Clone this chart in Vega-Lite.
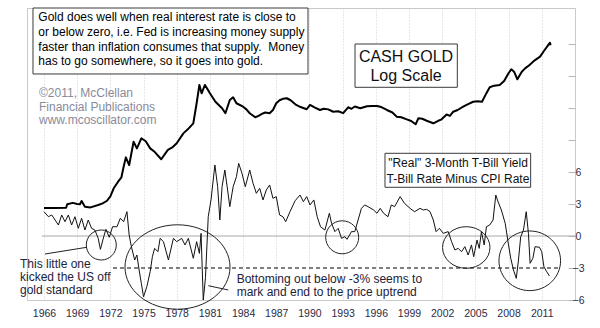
{
  "$schema": "https://vega.github.io/schema/vega-lite/v6.json",
  "width": 548,
  "height": 292,
  "autosize": {"type": "none"},
  "padding": {"left": 27, "top": 8, "right": 25, "bottom": 28},
  "background": "white",
  "config": {
    "view": {"stroke": "#c8c8c8", "strokeWidth": 1},
    "font": "Liberation Sans",
    "axis": {"labelFont": "Liberation Sans", "labelFontSize": 10.5, "labelColor": "#2b2b45", "title": null, "labelOverlap": false, "labelFlush": false}
  },
  "datasets": {
    "gold": [
      {"t": 1966.0, "p": 35}, {"t": 1967.0, "p": 35}, {"t": 1968.0, "p": 35.2}, {"t": 1968.1, "p": 38.2},
      {"t": 1968.6, "p": 39.5}, {"t": 1969.0, "p": 38.5}, {"t": 1969.25, "p": 38.2}, {"t": 1969.4, "p": 41.3},
      {"t": 1969.7, "p": 36}, {"t": 1970.2, "p": 35.5}, {"t": 1970.9, "p": 37.5}, {"t": 1971.3, "p": 39},
      {"t": 1971.7, "p": 41.5}, {"t": 1972.0, "p": 46}, {"t": 1972.3, "p": 55.6}, {"t": 1972.7, "p": 64.9},
      {"t": 1973.0, "p": 72}, {"t": 1973.2, "p": 92.4}, {"t": 1973.4, "p": 115}, {"t": 1973.7, "p": 96},
      {"t": 1974.1, "p": 166}, {"t": 1974.4, "p": 142}, {"t": 1974.8, "p": 180}, {"t": 1975.2, "p": 168},
      {"t": 1975.6, "p": 142}, {"t": 1976.0, "p": 131}, {"t": 1976.6, "p": 110}, {"t": 1977.2, "p": 137},
      {"t": 1977.6, "p": 145}, {"t": 1978.0, "p": 160}, {"t": 1978.6, "p": 202}, {"t": 1979.0, "p": 222},
      {"t": 1979.5, "p": 256}, {"t": 1979.8, "p": 410}, {"t": 1980.05, "p": 630}, {"t": 1980.25, "p": 518},
      {"t": 1980.55, "p": 630}, {"t": 1980.75, "p": 580}, {"t": 1981.0, "p": 518}, {"t": 1981.5, "p": 425},
      {"t": 1982.1, "p": 364}, {"t": 1982.4, "p": 324}, {"t": 1982.8, "p": 443}, {"t": 1983.1, "p": 472},
      {"t": 1983.4, "p": 410}, {"t": 1984.0, "p": 378}, {"t": 1984.3, "p": 355}, {"t": 1984.6, "p": 324},
      {"t": 1985.1, "p": 295}, {"t": 1985.4, "p": 305}, {"t": 1985.7, "p": 319}, {"t": 1986.0, "p": 330},
      {"t": 1986.4, "p": 324}, {"t": 1986.7, "p": 350}, {"t": 1987.0, "p": 410}, {"t": 1987.3, "p": 440},
      {"t": 1987.6, "p": 455}, {"t": 1987.95, "p": 461}, {"t": 1988.3, "p": 440}, {"t": 1988.8, "p": 394},
      {"t": 1989.2, "p": 375}, {"t": 1989.75, "p": 356}, {"t": 1990.05, "p": 394}, {"t": 1990.5, "p": 370},
      {"t": 1990.95, "p": 350}, {"t": 1991.3, "p": 360}, {"t": 1991.7, "p": 355}, {"t": 1992.15, "p": 336},
      {"t": 1992.6, "p": 340}, {"t": 1993.05, "p": 325}, {"t": 1993.5, "p": 373}, {"t": 1993.8, "p": 360},
      {"t": 1994.1, "p": 380}, {"t": 1994.6, "p": 364}, {"t": 1995.2, "p": 382}, {"t": 1995.7, "p": 385},
      {"t": 1996.1, "p": 385}, {"t": 1996.5, "p": 375}, {"t": 1997.0, "p": 350}, {"t": 1997.5, "p": 330},
      {"t": 1997.9, "p": 299}, {"t": 1998.3, "p": 295}, {"t": 1998.8, "p": 281}, {"t": 1999.2, "p": 270},
      {"t": 1999.6, "p": 250}, {"t": 1999.85, "p": 288}, {"t": 2000.2, "p": 285}, {"t": 2000.6, "p": 272},
      {"t": 2001.2, "p": 256}, {"t": 2001.6, "p": 270}, {"t": 2001.95, "p": 281}, {"t": 2002.4, "p": 315},
      {"t": 2002.7, "p": 305}, {"t": 2003.0, "p": 336}, {"t": 2003.4, "p": 350}, {"t": 2003.9, "p": 378},
      {"t": 2004.3, "p": 400}, {"t": 2004.8, "p": 425}, {"t": 2005.2, "p": 430}, {"t": 2005.6, "p": 425},
      {"t": 2006.0, "p": 520}, {"t": 2006.3, "p": 597}, {"t": 2006.7, "p": 620}, {"t": 2007.2, "p": 630},
      {"t": 2007.6, "p": 690}, {"t": 2008.0, "p": 829}, {"t": 2008.25, "p": 911}, {"t": 2008.5, "p": 860},
      {"t": 2008.8, "p": 720}, {"t": 2009.2, "p": 861}, {"t": 2009.5, "p": 930}, {"t": 2009.9, "p": 1007},
      {"t": 2010.3, "p": 1110}, {"t": 2010.85, "p": 1225}, {"t": 2011.2, "p": 1400}, {"t": 2011.6, "p": 1613},
      {"t": 2011.75, "p": 1701}, {"t": 2011.8, "p": 1600}
    ],
    "real": [
      {"t": 1966.0, "r": 2.28}, {"t": 1966.4, "r": 1.81}, {"t": 1966.7, "r": 1.97}, {"t": 1967.0, "r": 1.5},
      {"t": 1967.3, "r": 1.03}, {"t": 1967.6, "r": 1.97}, {"t": 1967.9, "r": 1.34}, {"t": 1968.2, "r": 1.97},
      {"t": 1968.5, "r": 1.03}, {"t": 1968.8, "r": 1.81}, {"t": 1969.1, "r": 0.72}, {"t": 1969.4, "r": 1.66},
      {"t": 1969.7, "r": 0.56}, {"t": 1970.0, "r": 1.5}, {"t": 1970.3, "r": 0.72}, {"t": 1970.6, "r": 0.56},
      {"t": 1970.9, "r": -0.22}, {"t": 1971.1, "r": -1.25}, {"t": 1971.4, "r": -0.07}, {"t": 1971.6, "r": 0.63},
      {"t": 1971.9, "r": -0.12}, {"t": 1972.2, "r": 0.87}, {"t": 1972.6, "r": 0.87}, {"t": 1972.9, "r": 1.66},
      {"t": 1973.2, "r": 1.34}, {"t": 1973.5, "r": 2.28}, {"t": 1973.7, "r": 0.09}, {"t": 1973.9, "r": -1.0},
      {"t": 1974.2, "r": -2.25}, {"t": 1974.4, "r": -1.78}, {"t": 1974.6, "r": -3.19}, {"t": 1974.8, "r": -4.44},
      {"t": 1975.0, "r": -5.7}, {"t": 1975.3, "r": -4.75}, {"t": 1975.6, "r": -3.34}, {"t": 1975.8, "r": -1.94},
      {"t": 1976.0, "r": -1.16}, {"t": 1976.3, "r": -1.47}, {"t": 1976.5, "r": -0.22}, {"t": 1976.8, "r": -0.53},
      {"t": 1977.25, "r": -2.25}, {"t": 1977.7, "r": -0.22}, {"t": 1978.0, "r": -0.53}, {"t": 1978.45, "r": -0.22},
      {"t": 1978.75, "r": -0.84}, {"t": 1979.05, "r": -0.22}, {"t": 1979.5, "r": -2.09}, {"t": 1979.8, "r": -0.53},
      {"t": 1980.05, "r": -1.63}, {"t": 1980.2, "r": 0.25}, {"t": 1980.4, "r": -6.0}, {"t": 1980.6, "r": -3.9},
      {"t": 1980.85, "r": 1.81}, {"t": 1981.1, "r": 3.38}, {"t": 1981.45, "r": 6.66}, {"t": 1981.7, "r": 4.62},
      {"t": 1981.9, "r": 1.5}, {"t": 1982.1, "r": 4.62}, {"t": 1982.35, "r": 6.19}, {"t": 1982.6, "r": 4.31},
      {"t": 1982.8, "r": 2.75}, {"t": 1983.1, "r": 4.62}, {"t": 1983.4, "r": 5.56}, {"t": 1983.6, "r": 6.81},
      {"t": 1983.9, "r": 5.88}, {"t": 1984.2, "r": 4.62}, {"t": 1984.6, "r": 6.19}, {"t": 1984.9, "r": 4.94},
      {"t": 1985.2, "r": 4.0}, {"t": 1985.5, "r": 4.47}, {"t": 1985.8, "r": 3.38}, {"t": 1986.1, "r": 4.31},
      {"t": 1986.4, "r": 4.78}, {"t": 1986.7, "r": 3.53}, {"t": 1987.0, "r": 3.69}, {"t": 1987.3, "r": 1.97},
      {"t": 1987.6, "r": 1.81}, {"t": 1987.85, "r": 1.34}, {"t": 1988.25, "r": 2.3}, {"t": 1988.7, "r": 3.3},
      {"t": 1989.15, "r": 3.84}, {"t": 1989.45, "r": 3.22}, {"t": 1989.75, "r": 3.69}, {"t": 1990.05, "r": 2.91},
      {"t": 1990.4, "r": 3.38}, {"t": 1990.7, "r": 1.81}, {"t": 1991.0, "r": 0.87}, {"t": 1991.4, "r": 0.56},
      {"t": 1991.8, "r": 2.13}, {"t": 1992.0, "r": 1.19}, {"t": 1992.3, "r": 0.41}, {"t": 1992.6, "r": 0.72},
      {"t": 1992.9, "r": -0.22}, {"t": 1993.2, "r": -0.07}, {"t": 1993.4, "r": -0.31}, {"t": 1993.8, "r": 0.41},
      {"t": 1994.1, "r": 0.41}, {"t": 1994.4, "r": 1.5}, {"t": 1994.7, "r": 2.59}, {"t": 1995.0, "r": 2.91},
      {"t": 1995.3, "r": 2.75}, {"t": 1995.8, "r": 2.44}, {"t": 1996.1, "r": 2.13}, {"t": 1996.4, "r": 2.59},
      {"t": 1996.7, "r": 2.13}, {"t": 1997.1, "r": 1.81}, {"t": 1997.4, "r": 2.91}, {"t": 1997.7, "r": 2.75},
      {"t": 1998.2, "r": 3.69}, {"t": 1998.6, "r": 3.06}, {"t": 1999.1, "r": 2.59}, {"t": 1999.5, "r": 2.28},
      {"t": 2000.0, "r": 2.59}, {"t": 2000.3, "r": 2.44}, {"t": 2000.6, "r": 2.5}, {"t": 2000.9, "r": 2.28},
      {"t": 2001.2, "r": 1.5}, {"t": 2001.45, "r": 0.41}, {"t": 2001.75, "r": 0.72}, {"t": 2002.1, "r": 0.25},
      {"t": 2002.55, "r": 0.41}, {"t": 2002.85, "r": -0.53}, {"t": 2003.15, "r": -1.31}, {"t": 2003.45, "r": -1.16},
      {"t": 2003.75, "r": -1.47}, {"t": 2004.05, "r": -1.0}, {"t": 2004.35, "r": -1.78}, {"t": 2004.65, "r": -0.84},
      {"t": 2004.85, "r": -1.94}, {"t": 2005.15, "r": -0.38}, {"t": 2005.35, "r": -1.16}, {"t": 2005.55, "r": 0.41},
      {"t": 2005.8, "r": -0.84}, {"t": 2006.0, "r": 0.87}, {"t": 2006.3, "r": 1.03}, {"t": 2006.6, "r": 1.5},
      {"t": 2006.85, "r": 3.84}, {"t": 2007.05, "r": 3.22}, {"t": 2007.35, "r": 2.44}, {"t": 2007.7, "r": 1.19},
      {"t": 2008.0, "r": -0.84}, {"t": 2008.2, "r": -2.09}, {"t": 2008.45, "r": -3.19}, {"t": 2008.7, "r": -3.97},
      {"t": 2008.9, "r": -2.25}, {"t": 2009.1, "r": -0.07}, {"t": 2009.35, "r": 0.56}, {"t": 2009.6, "r": 2.28},
      {"t": 2009.8, "r": 0.25}, {"t": 2009.95, "r": -2.56}, {"t": 2010.2, "r": -2.09}, {"t": 2010.4, "r": -1.0},
      {"t": 2010.8, "r": -1.06}, {"t": 2011.0, "r": -1.47}, {"t": 2011.2, "r": -2.88}, {"t": 2011.45, "r": -3.34},
      {"t": 2011.7, "r": -3.75}
    ]
  },
  "layer": [
    {
      "data": {"name": "gold"},
      "mark": {"type": "line", "color": "#000000", "strokeWidth": 2, "strokeJoin": "round"},
      "encoding": {
        "x": {"field": "t", "type": "quantitative", "scale": {"domain": [1964.463, 2014.01], "nice": false, "zero": false},
          "axis": {"values": [1966, 1969, 1972, 1975, 1978, 1981, 1984, 1987, 1990, 1993, 1996, 1999, 2002, 2005, 2008, 2011, 2014],
            "tickCount": 100, "format": "d", "labelExpr": "datum.value > 2012 ? '' : datum.label", "grid": true, "gridColor": "#cfcfcf", "gridDash": [1, 2],
            "ticks": false, "domain": false, "labelPadding": 8, "labelOverlap": false, "labelFlush": false, "title": null}},
        "y": {"field": "p", "type": "quantitative", "scale": {"type": "log", "domain": [4.03, 3843], "nice": false, "zero": false}, "axis": null}
      }
    },
    {
      "layer": [
        {
          "data": {"values": [{"a": 1965.8, "b": 2014.01, "v": 0}]},
          "mark": {"type": "rule", "color": "#a8a8a8", "strokeWidth": 1},
          "encoding": {
            "x": {"field": "a", "type": "quantitative", "scale": {"domain": [1964.463, 2014.01], "nice": false, "zero": false}},
            "x2": {"field": "b"},
            "y": {"field": "v", "type": "quantitative", "scale": {"domain": [-6, 21.375], "nice": false, "zero": false},
              "axis": {"orient": "right", "values": [-6, -3, 0, 3, 6, 9, 12, 15, 18], "tickCount": 100, "format": "d", "labelExpr": "datum.value <= 6 ? datum.label : ''",
                "grid": false, "domain": false, "tickSize": -7, "tickColor": "#b8b8b8", "labelPadding": 10, "labelAlign": "center",
                "labelOverlap": false, "labelFlush": false, "title": null}}
          }
        },
        {
          "data": {"values": [{"a": 1972.24, "b": 2012.5, "v": -3}]},
          "mark": {"type": "rule", "color": "#000000", "strokeWidth": 1, "strokeDash": [4, 3]},
          "encoding": {
            "x": {"field": "a", "type": "quantitative", "scale": {"domain": [1964.463, 2014.01], "nice": false, "zero": false}},
            "x2": {"field": "b"},
            "y": {"field": "v", "type": "quantitative", "scale": {"domain": [-6, 21.375], "nice": false, "zero": false}}
          }
        },
        {
          "data": {"name": "real"},
          "mark": {"type": "line", "color": "#111111", "strokeWidth": 1},
          "encoding": {
            "x": {"field": "t", "type": "quantitative", "scale": {"domain": [1964.463, 2014.01], "nice": false, "zero": false}},
            "y": {"field": "r", "type": "quantitative", "scale": {"domain": [-6, 21.375], "nice": false, "zero": false}}
          }
        },
        {
          "data": {"values": [
            {"a": 1965.005, "b": 1989.87, "c": 21.375, "d": 15.19},
            {"a": 1994.12, "b": 2003.37, "c": 18.0, "d": 13.94},
            {"a": 1996.83, "b": 2010.0, "c": 7.753, "d": 4.566}
          ]},
          "mark": {"type": "rect", "fill": "#ffffff", "stroke": "#3a3a3a", "strokeWidth": 1},
          "encoding": {
            "x": {"field": "a", "type": "quantitative", "scale": {"domain": [1964.463, 2014.01], "nice": false, "zero": false}},
            "x2": {"field": "b"},
            "y": {"field": "c", "type": "quantitative", "scale": {"domain": [-6, 21.375], "nice": false, "zero": false}},
            "y2": {"field": "d"}
          }
        },
        {
          "data": {"values": [
            {"a": 1966.09, "b": 1969.86, "c": -1.688, "d": -1.06},
            {"a": 1980.86, "b": 1982.66, "c": -4.66, "d": -5.06}
          ]},
          "mark": {"type": "rule", "color": "#222222", "strokeWidth": 1},
          "encoding": {
            "x": {"field": "a", "type": "quantitative", "scale": {"domain": [1964.463, 2014.01], "nice": false, "zero": false}},
            "x2": {"field": "b"},
            "y": {"field": "c", "type": "quantitative", "scale": {"domain": [-6, 21.375], "nice": false, "zero": false}},
            "y2": {"field": "d"}
          }
        },
        {
          "data": {"values": [
            {"x": 1965.485, "y": 20.127, "txt": "Gold does well when real interest rate is close to\nor below zero, i.e. Fed is increasing money supply\nfaster than inflation consumes that supply. \u00a0Money\nhas to go somewhere, so it goes into gold."}
          ]},
          "mark": {"type": "text", "align": "left", "baseline": "alphabetic", "fontSize": 12, "lineHeight": 14.7, "lineBreak": "\n", "color": "#000000", "font": "Liberation Sans"},
          "encoding": {
            "x": {"field": "x", "type": "quantitative", "scale": {"domain": [1964.463, 2014.01], "nice": false, "zero": false}},
            "y": {"field": "y", "type": "quantitative", "scale": {"domain": [-6, 21.375], "nice": false, "zero": false}},
            "text": {"field": "txt"}
          }
        },
        {
          "data": {"values": [
            {"x": 1965.55, "y": 13.0, "txt": "©2011, McClellan\nFinancial Publications\nwww.mcoscillator.com"}
          ]},
          "mark": {"type": "text", "align": "left", "baseline": "alphabetic", "fontSize": 12, "lineHeight": 13.5, "lineBreak": "\n", "color": "#8a8a99", "font": "Liberation Sans"},
          "encoding": {
            "x": {"field": "x", "type": "quantitative", "scale": {"domain": [1964.463, 2014.01], "nice": false, "zero": false}},
            "y": {"field": "y", "type": "quantitative", "scale": {"domain": [-6, 21.375], "nice": false, "zero": false}},
            "text": {"field": "txt"}
          }
        },
        {
          "data": {"values": [
            {"x": 1998.73, "y": 16.34, "txt": "CASH GOLD\nLog Scale"}
          ]},
          "mark": {"type": "text", "align": "center", "baseline": "alphabetic", "fontSize": 16, "lineHeight": 19.3, "lineBreak": "\n", "color": "#111111", "font": "Liberation Sans"},
          "encoding": {
            "x": {"field": "x", "type": "quantitative", "scale": {"domain": [1964.463, 2014.01], "nice": false, "zero": false}},
            "y": {"field": "y", "type": "quantitative", "scale": {"domain": [-6, 21.375], "nice": false, "zero": false}},
            "text": {"field": "txt"}
          }
        },
        {
          "data": {"values": [
            {"x": 2003.43, "y": 6.497, "txt": "\"Real\" 3-Month T-Bill Yield\nT-Bill Rate Minus CPI Rate"}
          ]},
          "mark": {"type": "text", "align": "center", "baseline": "alphabetic", "fontSize": 12, "lineHeight": 16.6, "lineBreak": "\n", "color": "#111111", "font": "Liberation Sans"},
          "encoding": {
            "x": {"field": "x", "type": "quantitative", "scale": {"domain": [1964.463, 2014.01], "nice": false, "zero": false}},
            "y": {"field": "y", "type": "quantitative", "scale": {"domain": [-6, 21.375], "nice": false, "zero": false}},
            "text": {"field": "txt"}
          }
        },
        {
          "data": {"values": [
            {"x": 1963.83, "y": -3.028, "txt": "This little one\nkicked the US off\ngold standard"},
            {"x": 1983.42, "y": -4.434, "txt": "Bottoming out below -3% seems to\nmark and end to the price uptrend"}
          ]},
          "mark": {"type": "text", "align": "left", "baseline": "alphabetic", "fontSize": 12, "lineHeight": 13, "lineBreak": "\n", "color": "#22223a", "font": "Liberation Sans"},
          "encoding": {
            "x": {"field": "x", "type": "quantitative", "scale": {"domain": [1964.463, 2014.01], "nice": false, "zero": false}},
            "y": {"field": "y", "type": "quantitative", "scale": {"domain": [-6, 21.375], "nice": false, "zero": false}},
            "text": {"field": "txt"}
          }
        },
        {
          "data": {"values": [{"x": 1971.18, "y": -0.844}]},
          "mark": {"type": "point", "filled": false, "stroke": "#222222", "strokeWidth": 1, "opacity": 1, "shape": "M-1,0A1,1 0 1,1 1,0A1,1 0 1,1 -1,0Z", "size": 900},
          "encoding": {
            "x": {"field": "x", "type": "quantitative", "scale": {"domain": [1964.463, 2014.01], "nice": false, "zero": false}},
            "y": {"field": "y", "type": "quantitative", "scale": {"domain": [-6, 21.375], "nice": false, "zero": false}}
          }
        },
        {
          "data": {"values": [{"x": 1978.07, "y": -2.906}]},
          "mark": {"type": "point", "filled": false, "stroke": "#222222", "strokeWidth": 1, "opacity": 1, "shape": "M-1,0A1,0.804 0 1,1 1,0A1,0.804 0 1,1 -1,0Z", "size": 11025},
          "encoding": {
            "x": {"field": "x", "type": "quantitative", "scale": {"domain": [1964.463, 2014.01], "nice": false, "zero": false}},
            "y": {"field": "y", "type": "quantitative", "scale": {"domain": [-6, 21.375], "nice": false, "zero": false}}
          }
        },
        {
          "data": {"values": [{"x": 1992.96, "y": -0.122}]},
          "mark": {"type": "point", "filled": false, "stroke": "#222222", "strokeWidth": 1, "opacity": 1, "shape": "M-1,0A1,1 0 1,1 1,0A1,1 0 1,1 -1,0Z", "size": 1089},
          "encoding": {
            "x": {"field": "x", "type": "quantitative", "scale": {"domain": [1964.463, 2014.01], "nice": false, "zero": false}},
            "y": {"field": "y", "type": "quantitative", "scale": {"domain": [-6, 21.375], "nice": false, "zero": false}}
          }
        },
        {
          "data": {"values": [{"x": 2004.18, "y": -1.078}]},
          "mark": {"type": "point", "filled": false, "stroke": "#222222", "strokeWidth": 1, "opacity": 1, "shape": "M-1,0A1,0.878 0 1,1 1,0A1,0.878 0 1,1 -1,0Z", "size": 2247},
          "encoding": {
            "x": {"field": "x", "type": "quantitative", "scale": {"domain": [1964.463, 2014.01], "nice": false, "zero": false}},
            "y": {"field": "y", "type": "quantitative", "scale": {"domain": [-6, 21.375], "nice": false, "zero": false}}
          }
        },
        {
          "data": {"values": [{"x": 2009.92, "y": -2.325}]},
          "mark": {"type": "point", "filled": false, "stroke": "#222222", "strokeWidth": 1, "opacity": 1, "shape": "M-1,0A1,0.968 0 1,1 1,0A1,0.968 0 1,1 -1,0Z", "size": 3795},
          "encoding": {
            "x": {"field": "x", "type": "quantitative", "scale": {"domain": [1964.463, 2014.01], "nice": false, "zero": false}},
            "y": {"field": "y", "type": "quantitative", "scale": {"domain": [-6, 21.375], "nice": false, "zero": false}}
          }
        }
      ]
    }
  ],
  "resolve": {"scale": {"y": "independent"}}
}
